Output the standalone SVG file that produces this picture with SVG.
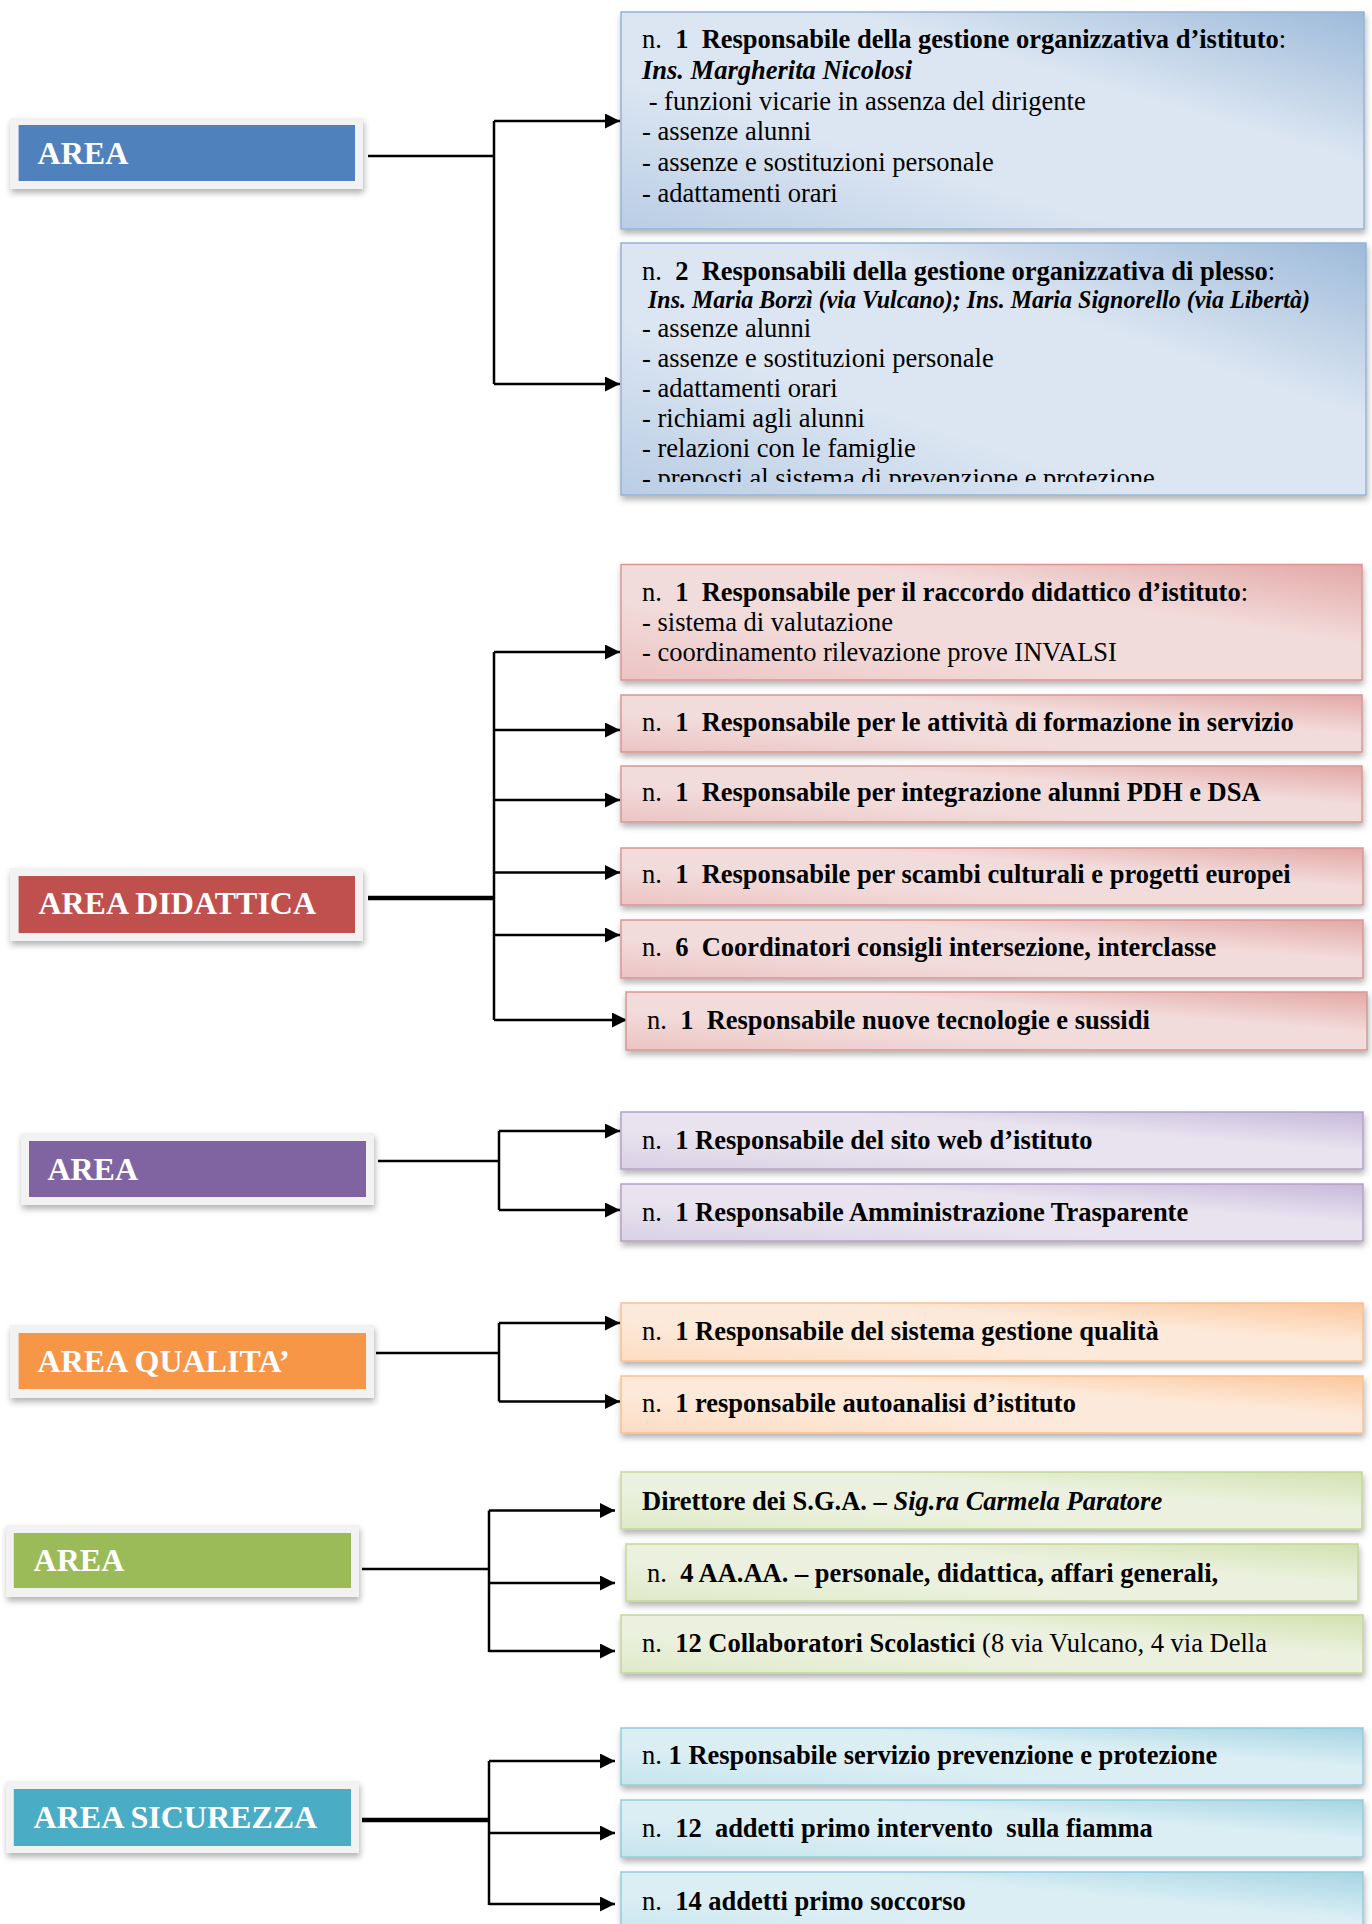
<svg xmlns="http://www.w3.org/2000/svg" width="1372" height="1924" viewBox="0 0 1372 1924">
<style>
.t{font-family:"Liberation Serif","Times New Roman",serif;font-size:26.5px;fill:#000;white-space:pre}
.b{font-weight:bold}
.i{font-style:italic}
.lab{font-family:"Liberation Serif","Times New Roman",serif;font-size:32px;font-weight:bold;fill:#fff}
.frame{fill:#f2f2f2;filter:url(#sh)}
.box{filter:url(#sh);stroke-width:1.5}
.con{fill:none;stroke:#000;stroke-width:2.5}
.thick{fill:none;stroke:#000;stroke-width:4.5}
.arr{fill:none;stroke:#000;stroke-width:2.5;marker-end:url(#ah)}
</style>
<defs>
<filter id="sh" x="-5%" y="-20%" width="112%" height="150%">
<feDropShadow dx="1" dy="4" stdDeviation="3" flood-color="#000" flood-opacity="0.3"/>
</filter>
<marker id="ah" markerUnits="userSpaceOnUse" markerWidth="15" markerHeight="15" viewBox="0 0 15 15" refX="15" refY="7.5" orient="auto">
<path d="M0,0 L15,7.5 L0,15 z" fill="#000"/>
</marker>
<linearGradient id="gB" x1="0" y1="1" x2="1" y2="0">
<stop offset="0" stop-color="#b9cde5"/><stop offset="0.35" stop-color="#dce6f2"/><stop offset="0.65" stop-color="#dce6f2"/><stop offset="1" stop-color="#9dbad9"/>
</linearGradient>
<linearGradient id="gR" x1="0" y1="1" x2="1" y2="0">
<stop offset="0" stop-color="#ebc4c3"/><stop offset="0.35" stop-color="#f2dcdb"/><stop offset="0.65" stop-color="#f2dcdb"/><stop offset="1" stop-color="#e2a8a6"/>
</linearGradient>
<linearGradient id="gP" x1="0" y1="1" x2="1" y2="0">
<stop offset="0" stop-color="#d9d0e4"/><stop offset="0.35" stop-color="#e8e3ef"/><stop offset="0.65" stop-color="#e8e3ef"/><stop offset="1" stop-color="#c7b9da"/>
</linearGradient>
<linearGradient id="gO" x1="0" y1="1" x2="1" y2="0">
<stop offset="0" stop-color="#fcdcc3"/><stop offset="0.35" stop-color="#fde9d9"/><stop offset="0.65" stop-color="#fde9d9"/><stop offset="1" stop-color="#fbc79c"/>
</linearGradient>
<linearGradient id="gG" x1="0" y1="1" x2="1" y2="0">
<stop offset="0" stop-color="#dfe9c9"/><stop offset="0.35" stop-color="#ebf1de"/><stop offset="0.65" stop-color="#ebf1de"/><stop offset="1" stop-color="#d2e1b0"/>
</linearGradient>
<linearGradient id="gC" x1="0" y1="1" x2="1" y2="0">
<stop offset="0" stop-color="#c6e4ed"/><stop offset="0.35" stop-color="#dbeef4"/><stop offset="0.65" stop-color="#dbeef4"/><stop offset="1" stop-color="#a6d5e3"/>
</linearGradient>
<clipPath id="cB1"><rect x="621" y="12" width="743" height="206"/></clipPath>
<clipPath id="cB2"><rect x="621" y="243" width="745" height="239"/></clipPath>
</defs>
<rect width="1372" height="1924" fill="#fff"/>

<g id="connectors">
<path class="con" d="M368,156 H494 M494,121 V384"/>
<path class="arr" d="M494,121 H620"/>
<path class="arr" d="M494,384 H620"/>
<path class="thick" d="M368,898 H494"/>
<path class="con" d="M494,652 V1020"/>
<path class="arr" d="M494,652 H620"/>
<path class="arr" d="M494,730 H620"/>
<path class="arr" d="M494,800 H620"/>
<path class="arr" d="M494,872.5 H620"/>
<path class="arr" d="M494,935 H620"/>
<path class="arr" d="M494,1020 H627"/>
<path class="con" d="M378,1161 H499 M499,1131 V1210"/>
<path class="arr" d="M499,1131 H620"/>
<path class="arr" d="M499,1210 H620"/>
<path class="con" d="M376,1353 H499 M499,1323 V1401.5"/>
<path class="arr" d="M499,1323 H620"/>
<path class="arr" d="M499,1401.5 H620"/>
<path class="con" d="M362,1569 H489 M489,1510.5 V1652"/>
<path class="arr" d="M489,1510.5 H615"/>
<path class="arr" d="M489,1583 H615"/>
<path class="arr" d="M489,1651 H615"/>
<path class="thick" d="M362,1820 H489"/>
<path class="con" d="M489,1761 V1905"/>
<path class="arr" d="M489,1761 H615"/>
<path class="arr" d="M489,1833 H615"/>
<path class="arr" d="M489,1904 H615"/>
</g>

<g id="area-blue">
<rect class="frame" x="10" y="118" width="353" height="71"/>
<rect x="18.6" y="125" width="336.4" height="56" fill="#4f81bd"/>
<text class="lab" x="37.6" y="164">AREA</text>
</g>
<g id="area-didattica">
<rect class="frame" x="10" y="868" width="353" height="73"/>
<rect x="18.6" y="876" width="336.4" height="57" fill="#c0504d"/>
<text class="lab" x="38.4" y="914">AREA DIDATTICA</text>
</g>
<g id="area-purple">
<rect class="frame" x="21" y="1133" width="353" height="72"/>
<rect x="29" y="1141" width="337" height="56" fill="#8064a2"/>
<text class="lab" x="47.4" y="1180">AREA</text>
</g>
<g id="area-qualita">
<rect class="frame" x="10" y="1325" width="364" height="73"/>
<rect x="18.6" y="1333" width="347.4" height="56" fill="#f79646"/>
<text class="lab" x="37.6" y="1372">AREA QUALITA’</text>
</g>
<g id="area-green">
<rect class="frame" x="6" y="1525" width="353" height="72"/>
<rect x="13.8" y="1533" width="337.2" height="55" fill="#9bbb59"/>
<text class="lab" x="33.6" y="1571">AREA</text>
</g>
<g id="area-sicurezza">
<rect class="frame" x="6" y="1781" width="353" height="72"/>
<rect x="13.8" y="1789" width="337.2" height="57" fill="#4bacc6"/>
<text class="lab" x="33.6" y="1828">AREA SICUREZZA</text>
</g>

<g id="b1">
<rect class="box" x="621" y="12" width="743" height="217" fill="url(#gB)" stroke="#95b3d7"/>
<g clip-path="url(#cB1)">
<text class="t" x="642" y="48">n.  <tspan class="b">1  Responsabile della gestione organizzativa d’istituto</tspan>:</text>
<text class="t b i" x="642" y="79">Ins. Margherita Nicolosi</text>
<text class="t" x="642" y="110"> - funzioni vicarie in assenza del dirigente</text>
<text class="t" x="642" y="140">- assenze alunni</text>
<text class="t" x="642" y="171">- assenze e sostituzioni personale</text>
<text class="t" x="642" y="202">- adattamenti orari</text>
</g>
</g>
<g id="b2">
<rect class="box" x="621" y="243" width="745" height="252" fill="url(#gB)" stroke="#95b3d7"/>
<g clip-path="url(#cB2)">
<text class="t" x="642" y="280">n.  <tspan class="b">2  Responsabili della gestione organizzativa di plesso</tspan>:</text>
<text class="t b i" x="648" y="308" style="font-size:24.5px" textLength="662" lengthAdjust="spacingAndGlyphs">Ins. Maria Borzì (via Vulcano); Ins. Maria Signorello (via Libertà)</text>
<text class="t" x="642" y="337">- assenze alunni</text>
<text class="t" x="642" y="367">- assenze e sostituzioni personale</text>
<text class="t" x="642" y="397">- adattamenti orari</text>
<text class="t" x="642" y="427">- richiami agli alunni</text>
<text class="t" x="642" y="457">- relazioni con le famiglie</text>
<text class="t" x="642" y="487">- preposti al sistema di prevenzione e protezione</text>
</g>
</g>

<g id="r1">
<rect class="box" x="621" y="564.5" width="741" height="115.5" fill="url(#gR)" stroke="#d99694"/>
<text class="t" x="642" y="601">n.  <tspan class="b">1  Responsabile per il raccordo didattico d’istituto</tspan>:</text>
<text class="t" x="642" y="631">- sistema di valutazione</text>
<text class="t" x="642" y="661">- coordinamento rilevazione prove INVALSI</text>
</g>
<g id="r2">
<rect class="box" x="621" y="695" width="741" height="57" fill="url(#gR)" stroke="#d99694"/>
<text class="t" x="642" y="731">n.  <tspan class="b">1  Responsabile per le attività di formazione in servizio</tspan></text>
</g>
<g id="r3">
<rect class="box" x="621" y="766" width="741" height="56" fill="url(#gR)" stroke="#d99694"/>
<text class="t" x="642" y="801">n.  <tspan class="b">1  Responsabile per integrazione alunni PDH e DSA</tspan></text>
</g>
<g id="r4">
<rect class="box" x="621" y="848" width="742" height="57" fill="url(#gR)" stroke="#d99694"/>
<text class="t" x="642" y="883">n.  <tspan class="b">1  Responsabile per scambi culturali e progetti europei</tspan></text>
</g>
<g id="r5">
<rect class="box" x="621" y="920" width="742" height="58" fill="url(#gR)" stroke="#d99694"/>
<text class="t" x="642" y="956">n.  <tspan class="b">6  Coordinatori consigli intersezione, interclasse</tspan></text>
</g>
<g id="r6">
<rect class="box" x="626" y="992" width="741" height="58" fill="url(#gR)" stroke="#d99694"/>
<text class="t" x="647" y="1029">n.  <tspan class="b">1  Responsabile nuove tecnologie e sussidi</tspan></text>
</g>

<g id="p1">
<rect class="box" x="621" y="1112" width="742" height="57" fill="url(#gP)" stroke="#b3a2c7"/>
<text class="t" x="642" y="1149">n.  <tspan class="b">1 Responsabile del sito web d’istituto</tspan></text>
</g>
<g id="p2">
<rect class="box" x="621" y="1184" width="742" height="57" fill="url(#gP)" stroke="#b3a2c7"/>
<text class="t" x="642" y="1221">n.  <tspan class="b">1 Responsabile Amministrazione Trasparente</tspan></text>
</g>

<g id="q1">
<rect class="box" x="621" y="1303" width="742" height="58" fill="url(#gO)" stroke="#fac08f"/>
<text class="t" x="642" y="1340">n.  <tspan class="b">1 Responsabile del sistema gestione qualità</tspan></text>
</g>
<g id="q2">
<rect class="box" x="621" y="1376" width="742" height="57" fill="url(#gO)" stroke="#fac08f"/>
<text class="t" x="642" y="1412">n.  <tspan class="b">1 responsabile autoanalisi d’istituto</tspan></text>
</g>

<g id="g1">
<rect class="box" x="621" y="1472" width="741" height="57" fill="url(#gG)" stroke="#c3d69b"/>
<text class="t b" x="642" y="1510">Direttore dei S.G.A. – <tspan class="i">Sig.ra Carmela Paratore</tspan></text>
</g>
<g id="g2">
<rect class="box" x="626" y="1544" width="732" height="57" fill="url(#gG)" stroke="#c3d69b"/>
<text class="t" x="647" y="1582">n.  <tspan class="b">4 AA.AA. – personale, didattica, affari generali,</tspan></text>
</g>
<g id="g3">
<rect class="box" x="621" y="1615" width="742" height="58" fill="url(#gG)" stroke="#c3d69b"/>
<text class="t" x="642" y="1652">n.  <tspan class="b">12 Collaboratori Scolastici</tspan> (8 via Vulcano, 4 via Della</text>
</g>

<g id="c1">
<rect class="box" x="621" y="1728" width="742" height="57" fill="url(#gC)" stroke="#93cddd"/>
<text class="t" x="642" y="1764">n. <tspan class="b">1 Responsabile servizio prevenzione e protezione</tspan></text>
</g>
<g id="c2">
<rect class="box" x="621" y="1800" width="742" height="57" fill="url(#gC)" stroke="#93cddd"/>
<text class="t" x="642" y="1837">n.  <tspan class="b">12  addetti primo intervento  sulla fiamma</tspan></text>
</g>
<g id="c3">
<rect class="box" x="621" y="1872" width="742" height="70" fill="url(#gC)" stroke="#93cddd"/>
<text class="t" x="642" y="1910">n.  <tspan class="b">14 addetti primo soccorso</tspan></text>
</g>
</svg>
